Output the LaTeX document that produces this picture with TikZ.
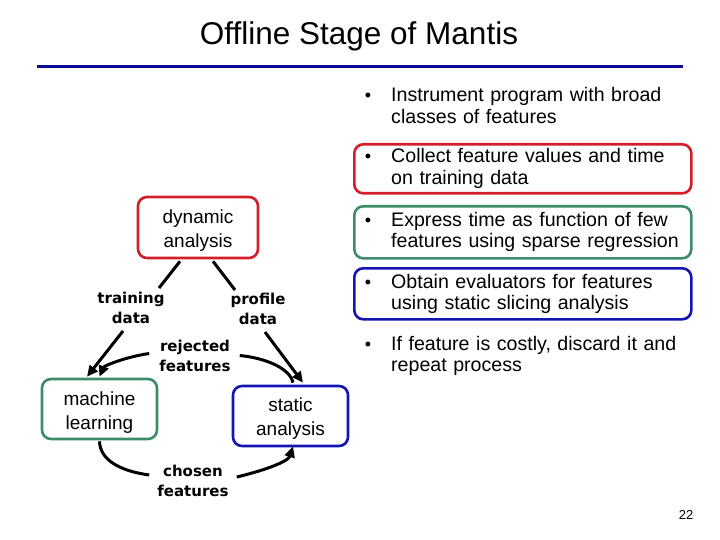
\documentclass[tikz,border=0pt]{standalone}
\usepackage{fontspec}
\setmainfont{Liberation Sans}
\newfontfamily\lblfont{DejaVu Sans}
\usetikzlibrary{arrows.meta,calc}
\definecolor{bred}{RGB}{210,30,40}
\definecolor{bgreen}{RGB}{60,140,105}
\definecolor{bblue}{RGB}{20,20,180}
\definecolor{tblue}{RGB}{10,10,150}
\tikzset{
  box/.style={draw=#1, line width=2.6pt, rounded corners=9pt, inner sep=0pt},
  boxtext/.style={align=center, font=\fontsize{19}{24}\selectfont},
  lbl/.style={align=center, font=\lblfont\bfseries\fontsize{15}{20}\selectfont, inner sep=0pt},
  bul/.style={anchor=base west, align=left, inner sep=0pt, text width=310pt,
    font=\fontsize{19.6}{21.5}\selectfont},
  dot/.style={anchor=base, inner sep=0pt, font=\fontsize{18}{21.5}\selectfont},
  conn/.style={line width=3pt, black},
  arr/.style={conn, -{Triangle[length=11pt,width=10pt]}}
}
\begin{document}
\begin{tikzpicture}[x=1pt,y=-1pt]
\useasboundingbox (0,0) rectangle (720,540);
% title
\node[font=\fontsize{31.5}{34}\selectfont, inner sep=0pt] (title) at (359,36) {Offline Stage of Mantis};
\coordinate (rl) at (37,66.5);
\coordinate (rr) at (683,66.5);
\draw[tblue, line width=3pt] (rl) -- (rr);
% right boxes
\node[box=bred, minimum width=337pt, minimum height=49pt, anchor=north west] (b2) at (353,143) {};
\node[box=bgreen, minimum width=337pt, minimum height=52pt, anchor=north west] (b3) at (353,205) {};
\node[box=bblue, minimum width=337pt, minimum height=51pt, anchor=north west] (b4) at (353,267) {};
% bullets
\node[dot] (d1) at (368,102) {•};
\node[bul] (t1) at (391,102) {Instrument program with broad\\classes of features};
\node[dot] (d2) at (368,163) {•};
\node[bul] (t2) at (391,163) {Collect feature values and time\\on training data};
\node[dot] (d3) at (368,226) {•};
\node[bul] (t3) at (391,226) {Express time as function of few\\features using sparse regression};
\node[dot] (d4) at (368,288) {•};
\node[bul] (t4) at (391,288) {Obtain evaluators for features\\using static slicing analysis};
\node[dot] (d5) at (368,350) {•};
\node[bul] (t5) at (391,350) {If feature is costly, discard it and\\repeat process};
% cycle diagram
\node[box=bred, minimum width=120pt, minimum height=61pt] (dyn) at (198,227.5) {};
\node[boxtext] (dynt) at (198,230.5) {dynamic\\analysis};
\node[box=bgreen, minimum width=115pt, minimum height=60pt] (ml) at (99.5,409) {};
\node[boxtext] (mlt) at (99.5,412.5) {machine\\learning};
\node[box=bblue, minimum width=115pt, minimum height=60pt] (sa) at (290.5,416) {};
\node[boxtext] (sat) at (290.5,419) {static\\analysis};
\node[lbl] (train) at (131,308) {training\\data};
\node[lbl] (prof) at (258,309) {profile\\data};
\node[lbl] (rej) at (195,355.5) {rejected\\features};
\node[lbl] (chos) at (193,481) {chosen\\features};
% connectors
\draw[conn] ($(dyn.south)+(-18,2)$) -- ($(train.north)+(28,-4)$);
\draw[arr] ($(train.south)+(-8,7)$) -- ($(ml.north)+(-12.5,-1)$);
\draw[conn] ($(dyn.south)+(15,2)$) -- ($(prof.north)+(-23,-3)$);
\draw[arr] ($(prof.south)+(7,7)$) -- ($(sa.north)+(12.5,-2)$);
\draw[conn] ($(sa.north)+(2.5,-2)$) .. controls (290,368) and (265,358) .. ($(rej.east)+(9,0)$);
\draw[arr] ($(rej.west)+(-10,-2)$) .. controls (125,357) and (104,366) .. ($(ml.north)+(0,-1)$);
\draw[conn] ($(ml.south)+(0,1)$) .. controls (100,460) and (120,471) .. ($(chos.west)+(-8,-6)$);
\draw[arr] ($(chos.east)+(8,-4)$) .. controls (262,471) and (288,462) .. ($(sa.south)+(2.5,-1)$);
% page number
\node[font=\fontsize{13}{15}\selectfont, inner sep=0pt] (pg) at (686,515) {22};
\end{tikzpicture}
\end{document}
